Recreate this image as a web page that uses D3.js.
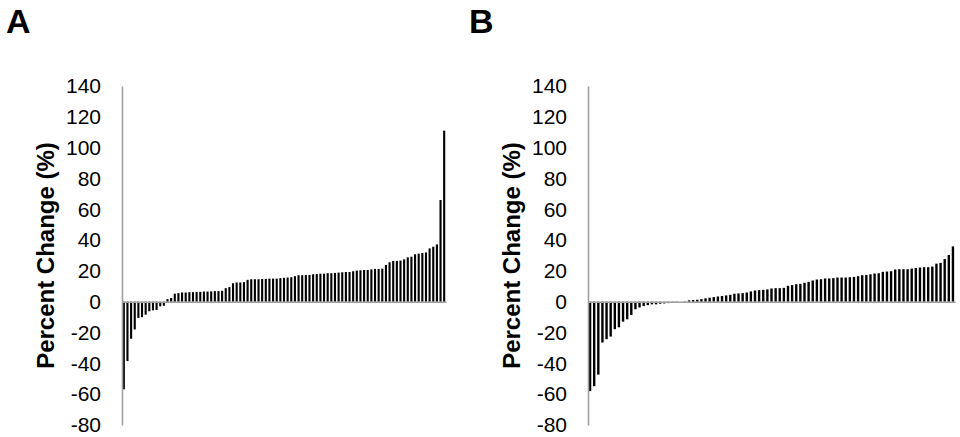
<!DOCTYPE html>
<html lang="en">
<head>
<meta charset="UTF-8">
<title>Percent Change</title>
<script src="https://cdn.jsdelivr.net/npm/d3@7"></script>
<style>
    body { margin: 0; background: #fff; font-family: "Liberation Sans", Arial, sans-serif; }
    .tick text { font-size: 21px; fill: #000; font-family: "Liberation Sans", Arial, sans-serif; }
    .domain { stroke: #a0a0a0; stroke-width: 1.6px; }
    .ylabel { font-size: 24px; font-weight: bold; }
    .panel { font-size: 34px; font-weight: bold; }
</style>
</head>
<body>
<svg id="chart" width="960" height="437"></svg>
<script>
// sorted percent change per subject, panel A and panel B
const valuesA = [
    -56.8, -38.5, -24, -18, -10.5, -10, -8.4, -6.2, -5.6, -5.4, -3, -2.6,
    1.7, 2.4, 5.2, 5.6, 6, 6, 6.2, 6.2, 6.4, 6.4, 6.6, 6.6, 6.7, 6.9, 6.9, 7.1,
    8.8, 9.5, 12, 12.5, 12.5, 12.7, 14.2, 14.6, 14.6, 14.6, 14.8, 14.8, 15, 15, 15, 15.3, 15.5, 15.7,
    15.9, 16.6, 17.2, 17.2, 17.4, 17.4, 17.8, 18, 18.2, 18.2, 18.5, 18.5, 18.7, 18.9, 19.1,
    19.3, 19.3, 19.8, 20.2, 20.4, 20.6, 20.6, 21, 21.3, 21.3, 21.5, 23.9, 25.6, 26.5, 26.5, 26.7,
    27.5, 28.8, 29.2, 30.8, 31.2, 31.6, 32, 34.6, 35.7, 37.2, 66, 111
];
const valuesB = [
    -58, -54.8, -47.3, -26.5, -24.3, -22.6, -17.8, -16.6, -12.9, -11.4, -8.6, -4.9,
    -3.7, -2.8, -2.2, -1.7, -1.7, -1.3, -1.1, -0.9, -0.5, -0.3, 0, 0.2,
    0.9, 1.1, 1.3, 1.7, 2.2, 2.6, 3, 3.4, 3.7, 4.1, 4.5, 5.2, 5.4, 5.6, 6, 6.7, 7.3, 7.5, 7.7, 8, 8.6,
    8.8, 8.8, 9, 10.3, 10.8, 11.4, 11.6, 12.3, 12.9, 13.8, 14.4, 14.6, 15.1, 15.1, 15.3,
    15.7, 15.7, 15.7, 15.9, 16.1, 16.6, 17.2, 17.4, 17.8, 18.3, 18.5, 19.4, 19.6, 19.8, 20.9,
    21.1, 21.1, 21.1, 21.5, 21.9, 22.2, 22.4, 22.4, 22.8, 24.7, 25.2, 27.7, 30.3, 35.9
];
const yTicks = [-80, -60, -40, -20, 0, 20, 40, 60, 80, 100, 120, 140];
const panelLabels = ["A", "B"];
const yTitle = "Percent Change (%)";

const svg = d3.select("#chart");

const y = d3.scaleLinear().domain([-80, 140]).range([425, 86]);

function drawPanel(values, letter, left, right, letterX, titleX) {
    const g = svg.append("g");

    const x = d3.scaleBand()
        .domain(d3.range(values.length))
        .range([left, right])
        .paddingInner(0.42)
        .paddingOuter(0.21);

    g.selectAll("rect")
        .data(values)
        .enter()
        .append("rect")
        .attr("x", (d, i) => x(i))
        .attr("width", x.bandwidth())
        .attr("y", d => y(Math.max(0, d)))
        .attr("height", d => Math.abs(y(d) - y(0)))
        .attr("fill", "#000");

    // zero line
    g.append("g")
        .attr("transform", "translate(0," + y(0) + ")")
        .call(d3.axisBottom(x).tickSize(0).tickSizeOuter(0).tickFormat(""))
        .selectAll(".tick").remove();

    // plain hyphen for negatives, like the original
    g.append("g")
        .attr("transform", "translate(" + left + ",0)")
        .call(d3.axisLeft(y).tickValues(yTicks).tickSize(0).tickSizeOuter(0).tickPadding(21)
            .tickFormat(d => String(d)));

    g.append("text")
        .attr("class", "ylabel")
        .attr("text-anchor", "middle")
        .attr("transform", "translate(" + titleX + "," + y(30) + ") rotate(-90)")
        .text(yTitle);

    g.append("text")
        .attr("class", "panel")
        .attr("x", letterX)
        .attr("y", 33)
        .text(letter);
}

drawPanel(valuesA, panelLabels[0], 122, 446, 6, 54);
drawPanel(valuesB, panelLabels[1], 588, 955, 469, 520);
</script>
</body>
</html>
